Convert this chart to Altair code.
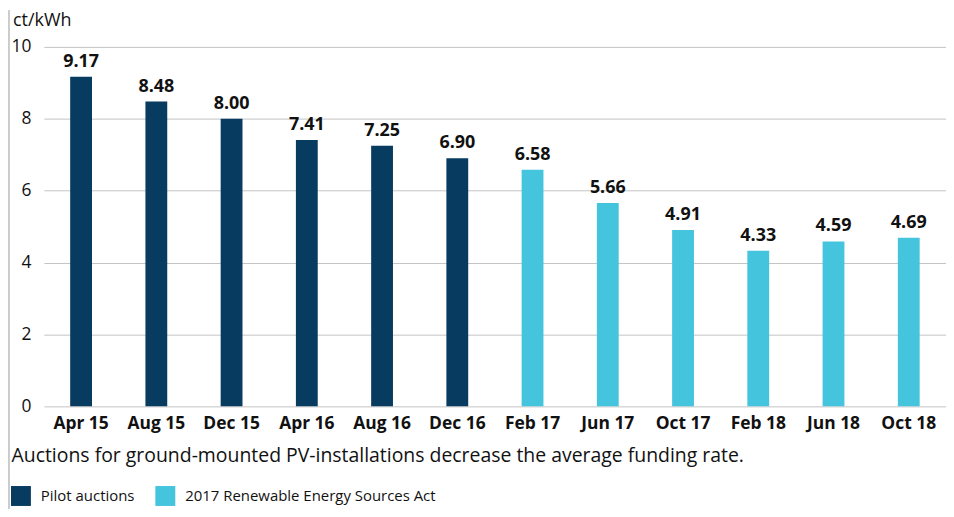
import altair as alt
import pandas as pd

months = ["Apr 15", "Aug 15", "Dec 15", "Apr 16", "Aug 16", "Dec 16",
          "Feb 17", "Jun 17", "Oct 17", "Feb 18", "Jun 18", "Oct 18"]
rates = [9.17, 8.48, 8.00, 7.41, 7.25, 6.90, 6.58, 5.66, 4.91, 4.33, 4.59, 4.69]
schemes = ["Pilot auctions"] * 6 + ["2017 Renewable Energy Sources Act"] * 6
scheme_order = ["Pilot auctions", "2017 Renewable Energy Sources Act"]
scheme_colors = ["#073b5f", "#44c4dd"]
unit_label = ["ct/kWh"]

df = pd.DataFrame({"month": months, "rate": rates, "scheme": schemes})
df["label"] = df["rate"].map(lambda v: f"{v:.2f}")

FONT = "Open Sans"

x = alt.X("month:N", sort=months,
          scale=alt.Scale(paddingInner=0.71, paddingOuter=0.35),
          axis=alt.Axis(title="Auctions for ground-mounted PV-installations decrease the average funding rate.",
                        labelAngle=0, labelFontWeight="bold", labelFontSize=17.5,
                        labelColor="#111", labelPadding=8, domain=False, ticks=False,
                        titleAnchor="start", titleAlign="left", titleX=-33, titleY=49,
                        titleBaseline="middle", titleFontSize=19.5, titleFontWeight="normal",
                        titleColor="#111"))

bars = alt.Chart(df).mark_bar().encode(
    x=x,
    y=alt.Y("rate:Q", scale=alt.Scale(domain=[0, 10]),
            axis=alt.Axis(values=[0, 2, 4, 6, 8, 10], title=None, domain=False, ticks=False,
                          labelFontSize=17.5, labelColor="#111", labelPadding=13,
                          gridColor="#c4c4c4", gridWidth=1)),
    color=alt.Color("scheme:N", sort=scheme_order,
                    scale=alt.Scale(domain=scheme_order, range=scheme_colors),
                    legend=alt.Legend(title=None, orient="none", legendX=-33, legendY=441,
                                      direction="horizontal", symbolType="square",
                                      symbolSize=400, symbolStrokeWidth=0, labelFontSize=15,
                                      labelColor="#111", columnPadding=20, labelOffset=10,
                                      labelLimit=500)),
)

text = alt.Chart(df).mark_text(baseline="bottom", dy=-6, fontWeight="bold", fontSize=18,
                               color="#111", font=FONT).encode(
    x=alt.X("month:N", sort=months), y="rate:Q", text="label:N")

unit = alt.Chart(pd.DataFrame({"t": unit_label})).mark_text(
    align="left", baseline="middle", fontSize=18, color="#111", font=FONT).encode(
    x=alt.value(-31), y=alt.value(-26), text="t:N")

border = alt.Chart(pd.DataFrame({"v": [0]})).mark_rule(color="#9a9a9a", strokeWidth=1).encode(
    x=alt.value(-35), y=alt.value(-37), y2=alt.value(464))

chart = alt.layer(bars, text, unit, border).properties(
    width=906, height=361,
    padding={"left": 0, "top": 0, "right": 0, "bottom": 0},
).configure(font=FONT).configure_view(stroke=None).configure_axis(labelFont=FONT, titleFont=FONT).configure_legend(labelFont=FONT)

chart.save("out.html", embed_options={"renderer": "svg", "actions": False})
